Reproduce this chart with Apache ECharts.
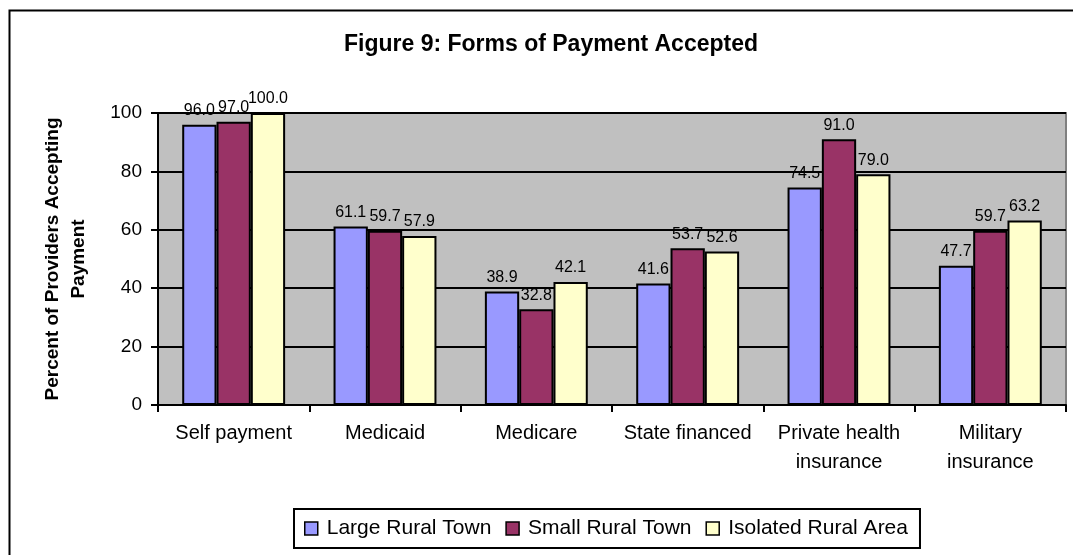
<!DOCTYPE html>
<html>
<head>
<meta charset="utf-8">
<script src="https://cdn.jsdelivr.net/npm/echarts@6/dist/echarts.min.js"></script>
<style>
  html, body { margin: 0; padding: 0; background: #fff; }
  #chart { width: 1073px; height: 555px; }
</style>
</head>
<body>
<div id="chart"></div>
<script>
// payment forms on the x axis
var categories = ["Self payment", "Medicaid", "Medicare", "State financed", "Private health\ninsurance", "Military\ninsurance"];
var seriesNames = ["Large Rural Town", "Small Rural Town", "Isolated Rural Area"];
var largeRural = [96.0, 61.1, 38.9, 41.6, 74.5, 47.7];
var smallRural = [97.0, 59.7, 32.8, 53.7, 91.0, 59.7];
var isolatedRural = [100.0, 57.9, 42.1, 52.6, 79.0, 63.2];
var yTicks = [0, 20, 40, 60, 80, 100];

var colorList = ["#9999FF", "#993366", "#FFFFCC"];
var font = "Liberation Sans, Arial, sans-serif";

function makeSeries(name, data, idx) {
  return {
    name: name,
    type: "bar",
    data: data,
    barGap: "0%",
    barCategoryGap: "32%",
    itemStyle: {
      color: colorList[idx],
      borderColor: "#000",
      borderWidth: 2
    },
    label: {
      show: true,
      position: "top",
      distance: 6,
      color: "#000",
      fontFamily: font,
      fontSize: 16,
      formatter: function (p) { return p.value.toFixed(1); }
    }
  };
}

var chart = echarts.init(document.getElementById("chart"));
var option = {
  animation: false,
  backgroundColor: "#fff",
  title: {
    text: "Figure 9: Forms of Payment Accepted",
    left: 546,
    top: 28,
    textAlign: "center",
    textStyle: { fontFamily: font, fontSize: 23, fontWeight: "bold", color: "#000" }
  },
  graphic: [{
    // outer chart frame, cut off at right and bottom like the original
    type: "rect",
    left: 7,
    top: 8,
    shape: { width: 1100, height: 600 },
    style: { fill: "none", stroke: "#000", lineWidth: 2 },
    silent: true
  }],
  legend: {
    data: seriesNames,
    bottom: 7,
    left: 294,
    itemWidth: 13,
    itemHeight: 13,
    itemGap: 14,
    icon: "rect",
    borderColor: "#000",
    borderWidth: 2,
    padding: [9, 12, 9, 10],
    itemStyle: { borderColor: "#000", borderWidth: 1.5 },
    textStyle: { fontFamily: font, fontSize: 21, color: "#000", padding: [0, 0, 0, 4] }
  },
  grid: {
    left: 158,
    right: 7,
    top: 113,
    bottom: 150,
    show: true,
    backgroundColor: "#C0C0C0",
    borderColor: "#808080",
    borderWidth: 2
  },
  xAxis: {
    type: "category",
    data: categories,
    axisLine: { lineStyle: { color: "#000", width: 2 } },
    axisTick: { show: true, length: 7, lineStyle: { color: "#000", width: 2 } },
    axisLabel: {
      color: "#000",
      fontFamily: font,
      fontSize: 20,
      lineHeight: 29,
      margin: 14,
      interval: 0
    }
  },
  yAxis: {
    type: "value",
    min: yTicks[0],
    max: yTicks[yTicks.length - 1],
    interval: 20,
    name: "Percent of Providers Accepting\nPayment",
    nameLocation: "middle",
    nameRotate: 90,
    nameGap: 66,
    nameTextStyle: { fontFamily: font, fontSize: 19, fontWeight: "bold", color: "#000", lineHeight: 26 },
    axisLine: { show: true, lineStyle: { color: "#000", width: 2 } },
    axisTick: { show: true, length: 7, lineStyle: { color: "#000", width: 2 } },
    axisLabel: { color: "#000", fontFamily: font, fontSize: 19, margin: 16 },
    splitLine: { show: true, lineStyle: { color: "#000", width: 2 } }
  },
  series: [
    makeSeries(seriesNames[0], largeRural, 0),
    makeSeries(seriesNames[1], smallRural, 1),
    makeSeries(seriesNames[2], isolatedRural, 2)
  ]
};
chart.setOption(option);
</script>
</body>
</html>
